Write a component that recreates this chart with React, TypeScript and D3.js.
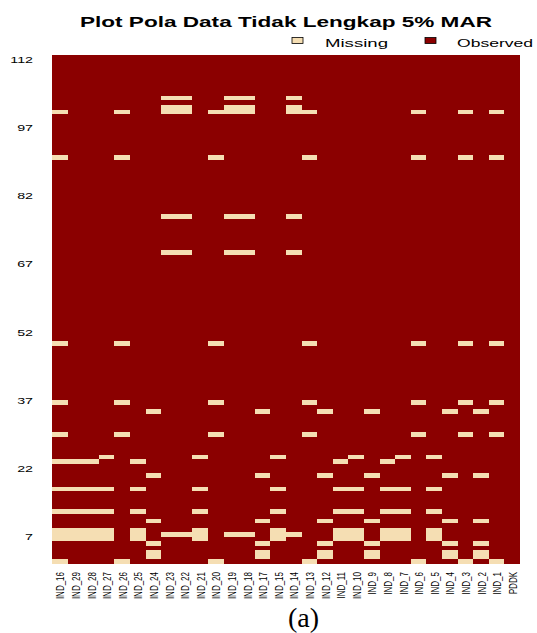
import React, { useEffect, useRef } from 'react';
import * as d3 from 'd3';

const columns = ['IND_16', 'IND_29', 'IND_28', 'IND_27', 'IND_26', 'IND_25', 'IND_24', 'IND_23', 'IND_22', 'IND_21',
  'IND_20', 'IND_19', 'IND_18', 'IND_17', 'IND_15', 'IND_14', 'IND_13', 'IND_12', 'IND_11', 'IND_10',
  'IND_9', 'IND_8', 'IND_7', 'IND_6', 'IND_5', 'IND_4', 'IND_3', 'IND_2', 'IND_1', 'PDDK'];
const rowCount = 112;
const rowTicks = [7, 22, 37, 52, 67, 82, 97, 112];

// rows (1 = bottom) that are missing, grouped by shared pattern
const missA = [1, 29, 36, 49, 90, 100];
const missB = [7, 69, 77, 100, 101, 103];
const missC = [2, 3, 5, 10, 20, 34];
const missD1 = [6, 7, 8, 12, 17, 23];
const missD2 = [6, 7, 8, 12, 17, 24];

const missingByColumn: Record<string, number[]> = {
  IND_16: [...missA, ...missD1], IND_29: missD1, IND_28: missD1, IND_27: missD2, IND_26: missA,
  IND_25: missD1, IND_24: missC, IND_23: missB, IND_22: missB, IND_21: missD2,
  IND_20: missA, IND_19: missB, IND_18: missB, IND_17: missC, IND_15: missD2,
  IND_14: missB, IND_13: missA, IND_12: missC, IND_11: missD1, IND_10: missD2,
  IND_9: missC, IND_8: missD1, IND_7: missD2, IND_6: missA, IND_5: missD2,
  IND_4: missC, IND_3: missA, IND_2: missC, IND_1: missA, PDDK: [],
};

const MISSING = '#F5DEB3';
const OBSERVED = '#8B0000';

const App = () => {
  const ref = useRef<SVGSVGElement>(null);

  useEffect(() => {
    const svg = d3.select(ref.current);
    svg.selectAll('*').remove();
    const W = 537, H = 633;
    const left = 52, right = 520, top = 55, bottom = 564;

    const rows = d3.range(1, rowCount + 1);
    const x = d3.scaleBand<string>().domain(columns).range([left, right]);
    const y = d3.scaleBand<number>().domain([...rows].reverse()).range([top, bottom]);

    const cells: { col: string; row: number; miss: boolean }[] = [];
    columns.forEach(c => {
      const m = new Set(missingByColumn[c]);
      rows.forEach(r => cells.push({ col: c, row: r, miss: m.has(r) }));
    });

    svg.attr('width', W).attr('height', H);

    svg.append('g')
      .attr('shape-rendering', 'crispEdges')
      .selectAll('rect')
      .data(cells)
      .enter()
      .append('rect')
      .attr('x', d => x(d.col)!)
      .attr('y', d => y(d.row)!)
      .attr('width', x.bandwidth())
      .attr('height', y.bandwidth())
      .attr('fill', d => (d.miss ? MISSING : OBSERVED));

    // title
    svg.append('text')
      .attr('x', (left + right) / 2)
      .attr('y', 26.5)
      .attr('text-anchor', 'middle')
      .attr('font-family', 'Liberation Sans, Arial, sans-serif')
      .attr('font-weight', 'bold')
      .attr('font-size', 15.5)
      .attr('textLength', 412)
      .attr('lengthAdjust', 'spacingAndGlyphs')
      .text('Plot Pola Data Tidak Lengkap 5% MAR');

    // legend
    const legendItems = [
      { label: 'Missing', color: MISSING, bx: 292, tx: 325, tw: 63 },
      { label: 'Observed', color: OBSERVED, bx: 425, tx: 457, tw: 76 },
    ];
    const lg = svg.append('g');
    lg.selectAll('rect')
      .data(legendItems)
      .enter()
      .append('rect')
      .attr('x', d => d.bx)
      .attr('y', 37.5)
      .attr('width', 11)
      .attr('height', 6)
      .attr('fill', d => d.color)
      .attr('stroke', '#000')
      .attr('stroke-width', 0.8);
    lg.selectAll('text')
      .data(legendItems)
      .enter()
      .append('text')
      .attr('x', d => d.tx)
      .attr('y', 46.5)
      .attr('font-family', 'Liberation Sans, Arial, sans-serif')
      .attr('font-size', 10)
      .attr('textLength', d => d.tw)
      .attr('lengthAdjust', 'spacingAndGlyphs')
      .text(d => d.label);

    // y axis labels
    svg.append('g')
      .selectAll('text')
      .data(rowTicks)
      .enter()
      .append('text')
      .attr('transform', d => `translate(33, ${y(d)! + y.bandwidth() / 2 + 2.5}) scale(1.5, 1)`)
      .attr('text-anchor', 'end')
      .attr('dominant-baseline', 'central')
      .attr('font-family', 'Liberation Sans, Arial, sans-serif')
      .attr('font-size', 9.5)
      .text(d => d);

    // x axis labels
    svg.append('g')
      .selectAll('text')
      .data(columns)
      .enter()
      .append('text')
      .attr('transform', d => `translate(${x(d)! + x.bandwidth() / 2 + 4.5}, ${bottom + 8}) scale(1.25, 1) rotate(-90)`)
      .attr('text-anchor', 'end')
      .attr('font-family', 'Liberation Sans, Arial, sans-serif')
      .attr('font-size', 8)
      .text(d => d);

    svg.append('text')
      .attr('x', 303.5)
      .attr('y', 627)
      .attr('text-anchor', 'middle')
      .attr('font-family', 'Liberation Serif, Times New Roman, serif')
      .attr('font-size', 28)
      .text('(a)');
  }, []);

  return <svg ref={ref} style={{ position: 'absolute', left: 0, top: 0 }}></svg>;
};

export default App;
